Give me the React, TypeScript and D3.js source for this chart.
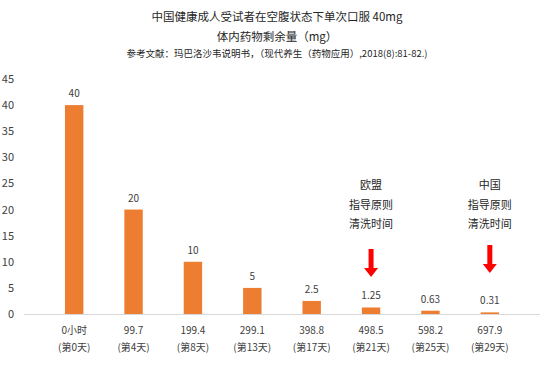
import React, { useEffect, useRef } from 'react';
import * as d3 from 'd3';

const hours = ['0小时', '99.7', '199.4', '299.1', '398.8', '498.5', '598.2', '697.9'];
const days = ['(第0天)', '(第4天)', '(第8天)', '(第13天)', '(第17天)', '(第21天)', '(第25天)', '(第29天)'];
const remain = [40, 20, 10, 5, 2.5, 1.25, 0.63, 0.31];
const yTicks = [0, 5, 10, 15, 20, 25, 30, 35, 40, 45];
const notes = [
  { idx: 5, lines: ['欧盟', '指导原则', '清洗时间'] },
  { idx: 7, lines: ['中国', '指导原则', '清洗时间'] },
];

const FONT = '"Noto Sans CJK SC", "Noto Sans", sans-serif';

export default function App() {
  const svgRef = useRef<SVGSVGElement>(null);

  useEffect(() => {
    const svg = d3.select(svgRef.current);
    svg.selectAll('*').remove();

    const W = 554, H = 366;
    const left = 24, right = 540, top = 79, bottom = 314;

    const x = d3.scaleBand().domain(hours).range([left, right]).padding(0.69);
    const y = d3.scaleLinear().domain([0, 45]).range([bottom, top]);

    svg.attr('width', W).attr('height', H).style('font-family', FONT);

    // title
    const titles = [
      { t: '中国健康成人受试者在空腹状态下单次口服 40mg', y: 21, s: 11.5 },
      { t: '体内药物剩余量（mg）', y: 41, s: 11.5 },
      { t: '参考文献：玛巴洛沙韦说明书，（现代养生（药物应用）,2018(8):81-82.)', y: 56.5, s: 9.5 },
    ];
    svg.selectAll('.title').data(titles).enter().append('text')
      .attr('x', 277).attr('y', d => d.y).attr('text-anchor', 'middle')
      .style('font-size', d => d.s + 'px').style('fill', '#262626').text(d => d.t);

    // y ticks
    svg.selectAll('.ytick').data(yTicks).enter().append('text')
      .attr('x', 14).attr('y', d => y(d) + 4).attr('text-anchor', 'end')
      .style('font-size', '11px').style('fill', '#404040').text(d => d);

    // axis line
    svg.append('line').attr('x1', left).attr('x2', right)
      .attr('y1', bottom + 0.5).attr('y2', bottom + 0.5)
      .attr('stroke', '#d9d9d9').attr('stroke-width', 1);

    // bars
    svg.selectAll('.bar').data(remain).enter().append('rect')
      .attr('x', (d, i) => x(hours[i])!).attr('y', d => y(d))
      .attr('width', x.bandwidth()).attr('height', d => bottom - y(d))
      .style('fill', '#ED7D31');

    // value labels
    svg.selectAll('.val').data(remain).enter().append('text')
      .attr('x', (d, i) => x(hours[i])! + x.bandwidth() / 2).attr('y', d => y(d) - 8)
      .attr('text-anchor', 'middle').style('font-size', '10px').style('fill', '#404040')
      .text(d => d);

    // category labels
    const cats = svg.selectAll('.cat').data(hours).enter().append('text')
      .attr('text-anchor', 'middle').style('font-size', '10px').style('fill', '#404040');
    cats.append('tspan').attr('x', d => x(d)! + x.bandwidth() / 2).attr('y', 334).text(d => d);
    cats.append('tspan').attr('x', d => x(d)! + x.bandwidth() / 2).attr('y', 351).text((d, i) => days[i]);

    // annotations
    notes.forEach(n => {
      const cx = x(hours[n.idx])! + x.bandwidth() / 2;
      n.lines.forEach((l, j) => {
        svg.append('text').attr('x', cx).attr('y', 189 + j * 19.5).attr('text-anchor', 'middle')
          .style('font-size', '11px').style('fill', '#262626').text(l);
      });
      const a0 = n.idx === 5 ? 249 : 245;
      const a1 = a0 + 28;
      svg.append('path')
        .attr('d', `M${cx - 2.5},${a0} L${cx + 2.5},${a0} L${cx + 2.5},${a1 - 9} L${cx + 7},${a1 - 9} L${cx},${a1} L${cx - 7},${a1 - 9} L${cx - 2.5},${a1 - 9} Z`)
        .style('fill', '#FF0000');
    });
  }, []);

  return <svg ref={svgRef} style={{ position: 'absolute', left: 0, top: 0 }} />;
}
